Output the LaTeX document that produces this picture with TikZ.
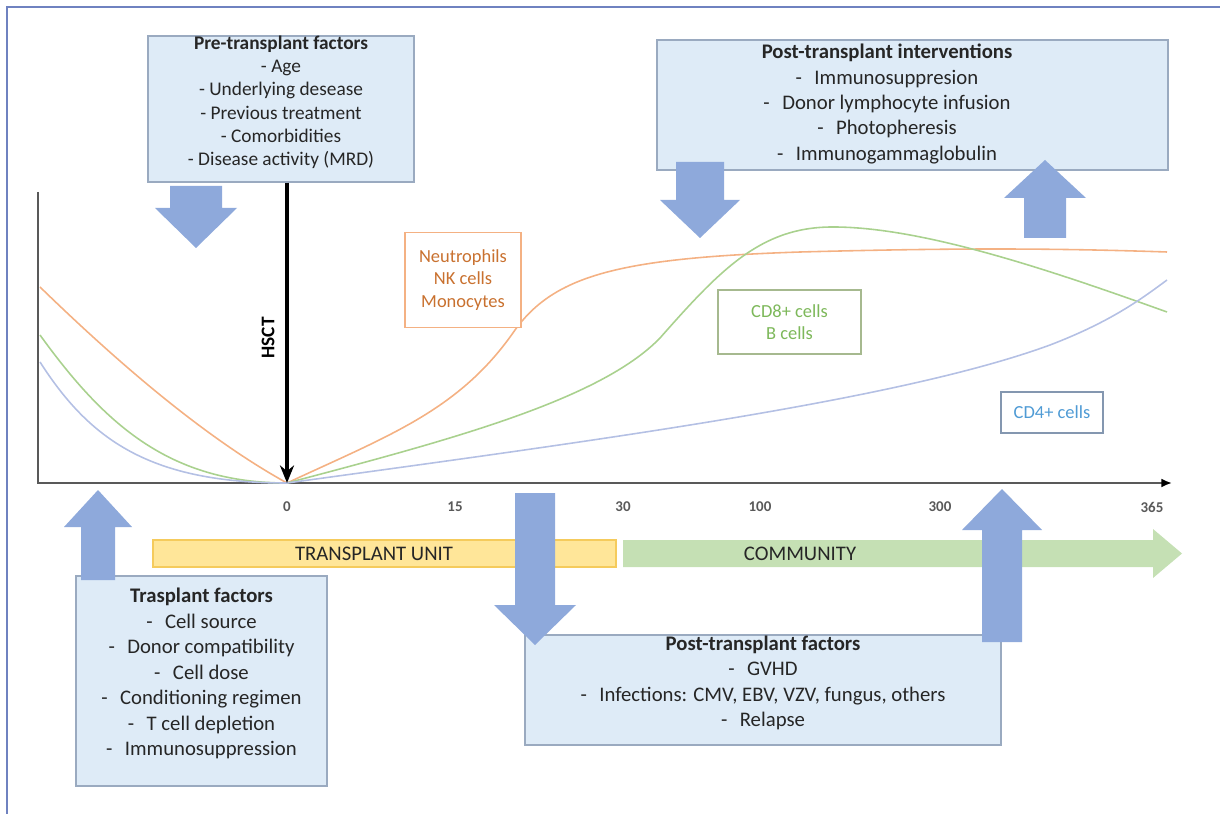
\documentclass[tikz,border=0pt]{standalone}
\usepackage{fontspec}
\setmainfont{Carlito}
\usetikzlibrary{arrows.meta, positioning, fit, calc}
\definecolor{boxFill}{HTML}{DEEBF7}
\definecolor{boxLine}{HTML}{9AAAC0}
\definecolor{arrowBlue}{HTML}{8EA9DB}
\definecolor{frameBlue}{HTML}{6F82C0}
\definecolor{unitYellow}{HTML}{FFE699}
\definecolor{unitLine}{HTML}{F5CB5C}
\definecolor{commGreen}{HTML}{C5E0B4}
\definecolor{neutroOrange}{HTML}{F4B183}
\definecolor{neutroText}{HTML}{C9712F}
\definecolor{cdEightGreen}{HTML}{A9D18E}
\definecolor{cdEightLine}{HTML}{A6B98F}
\definecolor{cdEightText}{HTML}{7DB85A}
\definecolor{cdFourBlue}{HTML}{B4C0E4}
\definecolor{cdFourLine}{HTML}{8497B0}
\definecolor{cdFourText}{HTML}{4F9BD5}
\definecolor{axisGray}{HTML}{595959}
\definecolor{inkDark}{HTML}{262626}

\newcommand{\itm}[1]{-\hspace{0.6em}#1}

\begin{document}
\begin{tikzpicture}[x=0.02cm, y=-0.02cm,
    factbox/.style={rectangle, draw=boxLine, fill=boxFill, line width=0.8pt,
                    inner sep=0pt, align=center, text=inkDark,
                    font=\fontsize{11.8}{14.5}\selectfont},
    celltag/.style={rectangle, fill=white, line width=0.8pt, inner sep=2pt,
                    align=center, font=\fontsize{10.5}{12.8}\selectfont},
    ticklab/.style={font=\fontsize{8.5}{9}\selectfont\bfseries, text=axisGray},
    barlab/.style={font=\fontsize{11.8}{12}\selectfont, text=inkDark},
    curveline/.style={line width=0.9pt},
  ]
  \useasboundingbox (0,0) rectangle (1220,814);
  % frame
  \draw[frameBlue, line width=1.2pt] (7,814) -- (7,7) -- (1220,7);

  % axes
  \coordinate (origin) at (38,483);
  \coordinate (zero) at (287,483);
  \draw[axisGray, line width=1.1pt, -{Latex[black, length=6pt, width=5pt]}]
    (38,192) -- (origin) -- (1172,483);
  \foreach \x/\t in {287/0, 455/15, 623/30, 760/100, 940/300, 1152/365}
    \node[ticklab] (tick\t) at (\x,507) {\t};

  % cell curves
  \draw[neutroOrange, curveline] (40,287) .. controls (110,355) and (200,435) .. (zero)
    .. controls (390,435) and (460,410) .. (515,330)
    .. controls (555,275) and (620,258) .. (800,252)
    .. controls (950,248) and (1050,248) .. (1167,252);
  \draw[cdEightGreen, curveline] (40,335) .. controls (105,425) and (170,483) .. (zero)
    .. controls (450,440) and (600,400) .. (660,338)
    .. controls (720,270) and (760,228) .. (830,227)
    .. controls (920,226) and (1050,270) .. (1167,312);
  \draw[cdFourBlue, curveline] (40,362) .. controls (90,440) and (150,483) .. (zero)
    .. controls (600,440) and (900,400) .. (1050,345)
    .. controls (1110,322) and (1140,300) .. (1167,280);

  % cell labels
  \node[celltag, draw=neutroOrange, text=neutroText, minimum width=2.32cm,
        minimum height=1.9cm] (neutro) at (463,280) {Neutrophils\\NK cells\\Monocytes};
  \node[celltag, draw=cdEightLine, text=cdEightText, minimum width=2.86cm,
        minimum height=1.28cm] (cdeight) at (789.5,322) {CD8+ cells\\B cells};
  \node[celltag, draw=cdFourLine, text=cdFourText, minimum width=2.04cm,
        minimum height=0.82cm] (cdfour) at (1052,412.5) {CD4+ cells};

  % factor boxes
  \node[factbox, fit={(148,36) (414,182)}, font=\fontsize{11}{13.2}\selectfont] (pre)
    {\textbf{Pre-transplant factors}\\- Age\\- Underlying desease\\- Previous treatment\\- Comorbidities\\- Disease activity (MRD)};
  \node[factbox, fit={(657,40) (1168,170)}] (interv) {};
  \node[align=center, inner sep=0pt, text=inkDark, font=\fontsize{11.8}{14.5}\selectfont]
    (intervtext) at (887,104)
    {\textbf{Post-transplant interventions}\\\itm{Immunosuppresion}\\\itm{Donor lymphocyte infusion}\\\itm{Photopheresis}\\\itm{Immunogammaglobulin}};
  \node[factbox, fit={(76,576) (327,786)}] (trasp)
    {\textbf{Trasplant factors}\\\itm{Cell source}\\\itm{Donor compatibility}\\\itm{Cell dose}\\\itm{Conditioning regimen}\\\itm{T cell depletion}\\\itm{Immunosuppression}};
  \node[factbox, fit={(525,635) (1001,745)}] (postf)
    {\textbf{Post-transplant factors}\\\itm{GVHD}\\\itm{Infections: CMV, EBV, VZV, fungus, others}\\\itm{Relapse}};

  % HSCT
  \draw[line width=1.8pt, -{Stealth[length=10pt, width=8pt]}] (pre.south -| zero) -- (zero);
  \node[rotate=90, font=\fontsize{11}{12}\selectfont\bfseries] (hsct) at (268,338) {HSCT};

  % care setting bars
  \node[rectangle, fill=unitYellow, draw=unitLine, line width=0.8pt, inner sep=0pt,
        minimum width=9.26cm, minimum height=0.54cm] (unit) at (384.5,553.5) {};
  \node[barlab] (unitlab) at (374,554) {TRANSPLANT UNIT};
  \fill[commGreen] (623,540) -- (1153,540) -- (1153,529) -- (1182,553.5) -- (1153,578)
    -- (1153,567) -- (623,567) -- cycle;
  \node[barlab] (community) at (800,554) {COMMUNITY};

  % block arrows: centre / shaft end / head base / tip / shaft half / head half
  \foreach \cx/\ya/\yb/\yc/\sw/\hw in {196/186/208/248/26/41, 700/162/200/238/24/40,
      1045/238/198/160/21/41, 98/580/527/490/17/34, 535/493/605/645/20/41,
      1002/642/530/489/20/40}
    \fill[arrowBlue] (\cx-\sw,\ya) -- (\cx+\sw,\ya) -- (\cx+\sw,\yb) -- (\cx+\hw,\yb)
      -- (\cx,\yc) -- (\cx-\hw,\yb) -- (\cx-\sw,\yb) -- cycle;
\end{tikzpicture}
\end{document}
